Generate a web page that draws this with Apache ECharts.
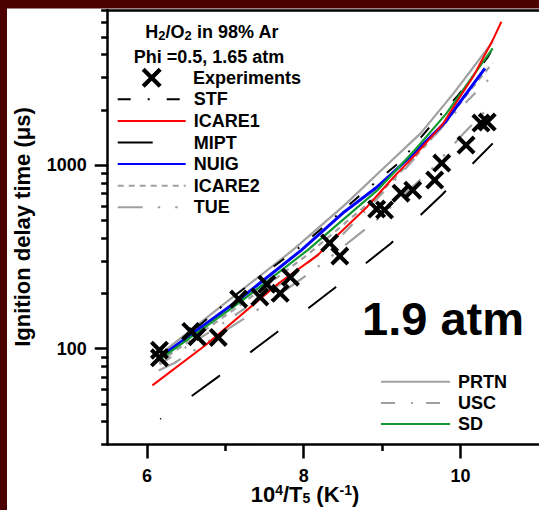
<!DOCTYPE html>
<html><head><meta charset="utf-8">
<script src="https://cdn.jsdelivr.net/npm/echarts@6/dist/echarts.min.js"></script>
<style>html,body{margin:0;padding:0;background:#fff}#c{width:539px;height:510px}</style>
</head><body><div id="c"></div><script>
// ---- data ----
const expX = [6.16, 6.16, 6.56, 6.64, 6.91, 7.17, 7.44, 7.53, 7.70, 7.83, 8.33, 8.46, 8.93, 9.03, 9.24, 9.39, 9.67, 9.76, 10.07, 10.26, 10.34];
const expY = [98, 89, 124, 116, 115, 186, 191, 224, 200, 245, 376, 319, 576, 569, 703, 730, 828, 1025, 1285, 1694, 1716];

const stfX = [6.14, 6.58, 7.13, 7.93, 8.33, 8.77, 9.23, 9.61, 9.97, 10.35, 10.41];
const stfY = [90, 124, 196, 352, 491, 716, 1042, 1618, 2405, 3890, 4350];
const icare1X = [6.07, 6.75, 7.68, 8.18, 8.31, 8.81, 9.15, 9.44, 9.78, 9.91, 10.16, 10.41, 10.52];
const icare1Y = [63, 104.5, 227, 323, 370, 593, 864, 1158, 1688, 2080, 3027, 4800, 6040];
const miptX = [6.17, 6.92, 7.65, 8.39, 9.11, 9.76, 10.41];
const miptY = [41.3, 70.8, 122, 213, 374, 687, 1313];
const nuigX = [6.15, 7.17, 7.97, 8.52, 8.94, 9.36, 9.80, 10.31];
const nuigY = [88.8, 184, 344, 557, 762, 1110, 1706, 3364];
const icare2X = [6.15, 7.17, 8.05, 8.94, 9.44, 9.82, 10.12, 10.41];
const icare2Y = [84, 170, 325, 680, 1130, 1720, 2550, 3600];
const tueX = [6.15, 6.35, 7.36, 8.13, 8.90, 9.62, 10.04, 10.41];
const tueY = [76, 83.4, 157, 268, 489, 940, 1489, 2180];
const prtnX = [6.14, 7.05, 7.86, 8.52, 9.06, 9.49, 9.91, 10.33, 10.41];
const prtnY = [91, 184, 344, 605, 1000, 1488, 2460, 4236, 4700];
const uscX = [6.16, 7.0, 7.8, 8.5, 9.2, 9.92, 10.14, 10.41];
const uscY = [82, 140, 240, 420, 860, 1910, 2355, 3090];
const sdX = [6.15, 7.17, 8.05, 8.94, 9.44, 9.82, 10.12, 10.41];
const sdY = [86.5, 177, 344, 730, 1238, 1913, 2905, 4325];

const xMajorTicks = [6, 8, 10];
const xMinorTicks = [7, 9];
const yMajorTicks = [100, 1000];
const yMinorTicks = [30, 40, 50, 60, 70, 80, 90, 200, 300, 400, 500, 600, 700, 800, 900, 2000, 3000, 4000, 5000, 6000, 7000];

// ---- build ----
const zip = (xs, ys) => xs.map((x, i) => [x, ys[i]]);
const FONT = 'Liberation Sans, Arial, Helvetica, sans-serif';
const XPATH = 'path://M3,0 L10,7 L17,0 L20,3 L13,10 L20,17 L17,20 L10,13 L3,20 L0,17 L7,10 L0,3 Z';
const GRAY = '#a0a0a0';

function lineSeries(name, xs, ys, color, width, type, offset) {
  return {
    name, type: 'line', data: zip(xs, ys), symbol: 'none', showSymbol: false,
    xAxisIndex: 0, yAxisIndex: 0, z: 2,
    lineStyle: { color, width, type: type || 'solid', dashOffset: offset || 0, cap: 'butt' },
    itemStyle: { color }
  };
}

const chart = echarts.init(document.getElementById('c'), null, { renderer: 'svg' });
const axisLineStyle = { color: '#000', width: 2.5 };
const labelStyle = { fontFamily: FONT, fontWeight: 'bold', fontSize: 18, color: '#000' };
const legendText = { fontFamily: FONT, fontWeight: 'bold', fontSize: 18, color: '#000', lineHeight: 20, padding: [0, 0, 0, 3] };

const option = {
  animation: false,
  backgroundColor: '#fff',
  grid: { left: 107.7, top: 10, width: 435.4, height: 434.5, containLabel: false },
  xAxis: [
    { type: 'value', min: 5.5, max: 11, position: 'bottom',
      axisLine: { show: true, onZero: false, lineStyle: axisLineStyle },
      axisTick: { show: true, customValues: xMajorTicks, length: 14, inside: false, lineStyle: { color: '#000', width: 2.5 } },
      axisLabel: { show: true, customValues: xMajorTicks, margin: 22, ...labelStyle },
      splitLine: { show: false } },
    { type: 'value', min: 5.5, max: 11, position: 'bottom', gridIndex: 0,
      axisLine: { show: false, onZero: false },
      axisTick: { show: true, customValues: xMinorTicks, length: 6.5, lineStyle: { color: '#000', width: 2.5 } },
      axisLabel: { show: false }, splitLine: { show: false } },
    { type: 'value', min: 5.5, max: 11, position: 'top',
      axisLine: { show: true, onZero: false, lineStyle: axisLineStyle },
      axisTick: { show: false }, axisLabel: { show: false }, splitLine: { show: false } }
  ],
  yAxis: [
    { type: 'log', logBase: 10, min: 30, max: 7000, position: 'left',
      axisLine: { show: true, onZero: false, lineStyle: axisLineStyle },
      axisTick: { show: true, customValues: yMajorTicks, length: 13, lineStyle: { color: '#000', width: 2.5 } },
      axisLabel: { show: true, customValues: yMajorTicks, margin: 21, formatter: v => String(Math.round(v)), ...labelStyle },
      splitLine: { show: false } },
    { type: 'log', logBase: 10, min: 30, max: 7000, position: 'left',
      axisLine: { show: false, onZero: false },
      axisTick: { show: true, customValues: yMinorTicks, length: 6.5, lineStyle: { color: '#000', width: 2.5 } },
      axisLabel: { show: false }, splitLine: { show: false } }
  ],
  legend: [
    { data: ['Experiments'], orient: 'vertical', left: 141.7, top: 67.7, padding: 0,
      itemWidth: 20, itemHeight: 20, itemGap: 1.6, selectedMode: false,
      textStyle: { ...legendText, padding: [0, 0, 0, 26.3] } },
    { data: ['STF', 'ICARE1', 'MIPT', 'NUIG', 'ICARE2', 'TUE'], orient: 'vertical', left: 116.7, top: 89.3, padding: 0,
      itemWidth: 68, itemHeight: 20, itemGap: 1.6, selectedMode: false, textStyle: legendText,
      itemStyle: { opacity: 0 }, lineStyle: { dashOffset: 0, opacity: 1 } },
    { data: ['PRTN', 'USC', 'SD'], orient: 'vertical', left: 380, top: 371.7, padding: 0,
      itemWidth: 69, itemHeight: 20, itemGap: 1.2, selectedMode: false, textStyle: legendText,
      itemStyle: { opacity: 0 }, lineStyle: { dashOffset: 0, opacity: 1 } }
  ],
  series: [
    lineSeries('TUE', tueX, tueY, GRAY, 2.2, [25, 15, 2.5, 15, 2.5, 15]),
    lineSeries('USC', uscX, uscY, GRAY, 2.2, [14, 16, 2, 13]),
    lineSeries('ICARE2', icare2X, icare2Y, GRAY, 2.2, [6, 5]),
    lineSeries('PRTN', prtnX, prtnY, GRAY, 2.2, 'solid'),
    lineSeries('MIPT', miptX, miptY, '#000', 2, [35, 38], 34),
    lineSeries('STF', stfX, stfY, '#000', 2, [13, 17, 2, 17]),
    lineSeries('NUIG', nuigX, nuigY, '#0000ff', 3, 'solid'),
    lineSeries('SD', sdX, sdY, '#129a32', 2.2, 'solid'),
    lineSeries('ICARE1', icare1X, icare1Y, '#ff0000', 2, 'solid'),
    { name: 'Experiments', type: 'scatter', data: zip(expX, expY), symbol: XPATH, symbolSize: 19,
      xAxisIndex: 0, yAxisIndex: 0, z: 5, itemStyle: { color: '#000', opacity: 1 } }
  ],
  graphic: [
    { type: 'rect', shape: { x: 0, y: 0, width: 539, height: 8.5 }, style: { fill: '#4d0000' }, z: 100 },
    { type: 'rect', shape: { x: 0, y: 0, width: 7, height: 510 }, style: { fill: '#4d0000' }, z: 100 },
    { type: 'text', x: 212, y: 32, z: 50,
      style: { text: '{m|H}{s|2}{m|/O}{s|2}{m| in 98% Ar}', align: 'center', verticalAlign: 'middle',
        rich: { m: { fontFamily: FONT, fontWeight: 'bold', fontSize: 18, lineHeight: 20, fill: '#000' },
                 s: { fontFamily: FONT, fontWeight: 'bold', fontSize: 13, lineHeight: 12, verticalAlign: 'bottom', fill: '#000' } } } },
    { type: 'text', x: 209, y: 56.7, z: 50,
      style: { text: 'Phi =0.5, 1.65 atm', align: 'center', verticalAlign: 'middle',
        font: 'bold 18px ' + FONT, fill: '#000' } },
    { type: 'text', x: 362, y: 318, z: 50,
      style: { text: '1.9 atm', align: 'left', verticalAlign: 'middle', font: 'bold 47px ' + FONT, fill: '#000' } },
    { type: 'text', x: 22.5, y: 227, rotation: Math.PI / 2, z: 50,
      style: { text: 'Ignition delay time (μs)', align: 'center', verticalAlign: 'middle', font: 'bold 22px ' + FONT, fill: '#000' } },
    { type: 'text', x: 305, y: 494, z: 50,
      style: { text: '{m|10}{p|4}{m|/T}{b|5}{m| (K}{p|-1}{m|)}', align: 'center', verticalAlign: 'middle',
        rich: { m: { fontFamily: FONT, fontWeight: 'bold', fontSize: 22, lineHeight: 22, fill: '#000' },
                p: { fontFamily: FONT, fontWeight: 'bold', fontSize: 14, lineHeight: 10, verticalAlign: 'top', fill: '#000' },
                b: { fontFamily: FONT, fontWeight: 'bold', fontSize: 14, lineHeight: 8, verticalAlign: 'bottom', fill: '#000' } } } }
  ]
};
chart.setOption(option);
</script></body></html>
